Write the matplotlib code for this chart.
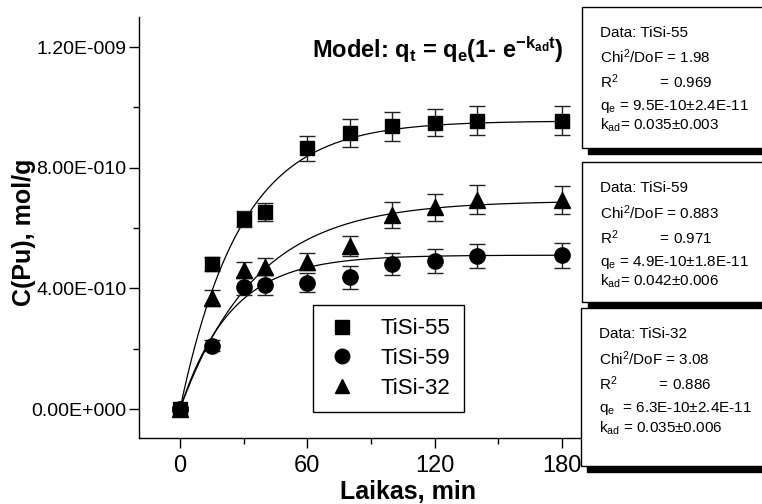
import numpy as np
import matplotlib
matplotlib.use("Agg")
import matplotlib.pyplot as plt
from matplotlib.patches import Rectangle

plt.rcParams['font.family'] = ['Liberation Sans', 'DejaVu Sans']
plt.rcParams['mathtext.fontset'] = 'custom'
plt.rcParams['mathtext.rm'] = 'Liberation Sans'
plt.rcParams['mathtext.it'] = 'Liberation Sans'
plt.rcParams['mathtext.bf'] = 'Liberation Sans:bold'

# ---- data ----
time_min = [0, 15, 30, 40, 60, 80, 100, 120, 140, 180]
tisi55 = [0, 0.481e-9, 0.629e-9, 0.654e-9, 0.864e-9, 0.915e-9, 0.937e-9, 0.949e-9, 0.956e-9, 0.956e-9]
tisi55_err = [0.008e-9, 0.024e-9, 0.026e-9, 0.030e-9, 0.042e-9, 0.045e-9, 0.047e-9, 0.045e-9, 0.048e-9, 0.048e-9]
tisi59 = [0, 0.210e-9, 0.405e-9, 0.411e-9, 0.419e-9, 0.436e-9, 0.481e-9, 0.491e-9, 0.507e-9, 0.510e-9]
tisi59_err = [0.008e-9, 0.018e-9, 0.028e-9, 0.033e-9, 0.031e-9, 0.037e-9, 0.037e-9, 0.039e-9, 0.039e-9, 0.041e-9]
tisi32 = [0, 0.367e-9, 0.461e-9, 0.472e-9, 0.488e-9, 0.540e-9, 0.643e-9, 0.668e-9, 0.693e-9, 0.693e-9]
tisi32_err = [0.008e-9, 0.026e-9, 0.025e-9, 0.028e-9, 0.028e-9, 0.033e-9, 0.044e-9, 0.045e-9, 0.048e-9, 0.047e-9]

series_names = ['TiSi-55', 'TiSi-59', 'TiSi-32']
fit_qe = [0.955e-9, 0.51e-9, 0.69e-9]
fit_k = [0.035, 0.042, 0.028]

x_ticks = [0, 60, 120, 180]
y_ticks = [0, 4e-10, 8e-10, 1.2e-9]
y_tick_labels = ['0.00E+000', '4.00E-010', '8.00E-010', '1.20E-009']

box_texts = [
    ['Data: TiSi-55', r'Chi$^2$/DoF = 1.98', r'R$^2$          = 0.969',
     r'q$_e$ = 9.5E-10±2.4E-11', r'k$_{ad}$= 0.035±0.003'],
    ['Data: TiSi-59', r'Chi$^2$/DoF = 0.883', r'R$^2$          = 0.971',
     r'q$_e$ = 4.9E-10±1.8E-11', r'k$_{ad}$= 0.042±0.006'],
    ['Data: TiSi-32', r'Chi$^2$/DoF = 3.08', r'R$^2$          = 0.886',
     r'q$_e$  = 6.3E-10±2.4E-11', r'k$_{ad}$ = 0.035±0.006'],
]

# ---- figure ----
W, H = 762, 504
fig = plt.figure(figsize=(W / 100, H / 100), dpi=100)

def fx(px):
    return px / W

def fy(py):
    return 1 - py / H

ax_l, ax_r, ax_t, ax_b = 139, 600, 17, 438
ax = fig.add_axes([fx(ax_l), fy(ax_b), fx(ax_r - ax_l), (ax_b - ax_t) / H])

x_per_min = (562 - 180) / 180.0
ax.set_xlim((ax_l - 180) / x_per_min, (ax_r - 180) / x_per_min)
y_per_unit = (409 - 47) / 1.2e-9
ax.set_ylim(-(ax_b - 409) / y_per_unit, (409 - ax_t) / y_per_unit)

for sp in ['top', 'right']:
    ax.spines[sp].set_visible(False)
for sp in ['left', 'bottom']:
    ax.spines[sp].set_linewidth(1.0)

markers = ['s', 'o', '^']
msizes = [10, 11, 11]
ydata = [tisi55, tisi59, tisi32]
yerrs = [tisi55_err, tisi59_err, tisi32_err]

tt = np.linspace(0, 180, 300)
for name, m, ms, yv, ye, qe, k in zip(series_names, markers, msizes, ydata, yerrs, fit_qe, fit_k):
    ax.plot(tt, qe * (1 - np.exp(-k * tt)), color='black', lw=0.9, zorder=2)
    ax.errorbar(time_min, yv, yerr=ye, fmt='none', ecolor='#222222', elinewidth=1.0,
                capsize=6, capthick=1.0, zorder=3)
    ax.plot(time_min, yv, linestyle='none', marker=m, ms=ms, color='black', zorder=4, label=name)

ax.set_xticks(x_ticks)
ax.set_xticks([30, 90, 150], minor=True)
ax.set_yticks(y_ticks)
ax.set_yticklabels(y_tick_labels)
ax.set_yticks([2e-10, 6e-10, 1.0e-9], minor=True)
ax.tick_params(axis='x', which='major', direction='out', length=7, width=1, labelsize=17, pad=5)
ax.tick_params(axis='x', which='minor', direction='out', length=4, width=1)
ax.tick_params(axis='y', which='major', direction='out', length=7, width=1, labelsize=14, pad=2)
ax.tick_params(axis='y', which='minor', direction='out', length=4, width=1)

leg = ax.legend(loc='upper left', bbox_to_anchor=((313 - ax_l) / (ax_r - ax_l), (ax_b - 305) / (ax_b - ax_t)),
                fontsize=16, frameon=True, fancybox=False, edgecolor='black', framealpha=1,
                handlelength=1.4, handletextpad=1.05, borderpad=0.6, labelspacing=0.4,
                borderaxespad=0, markerscale=0.95)
leg.get_frame().set_linewidth(1.0)

# title / model text
fig.text(fx(312), fy(58),
         r'Model: q$_{\mathbf{t}}$ = q$_{\mathbf{e}}$(1- e$^{\mathbf{-k_{ad}t}}$)',
         fontsize=17, fontweight='bold', ha='left', va='baseline')

# axis labels
fig.text(fx(408), fy(492), 'Laikas, min', fontsize=18, fontweight='bold', ha='center', va='center')
fig.text(fx(24), fy(232), 'C(Pu), mol/g', fontsize=18, fontweight='bold', ha='center', va='center',
         rotation=90)

# parameter boxes
boxes = [(582, 7, 148), (582, 162, 302), (581, 308, 466)]
baselines = [[37, 63, 88, 110, 130], [192, 219, 244, 266, 286], [338, 365, 390, 412, 433]]
off = 6
for (bx, btop, bbot), lines, bls in zip(boxes, box_texts, baselines):
    shadow = Rectangle((fx(bx + off), fy(bbot + off)), fx(W + 20 - bx), (bbot - btop) / H,
                       transform=fig.transFigure, facecolor='black', edgecolor='black', zorder=10)
    fig.add_artist(shadow)
    rect = Rectangle((fx(bx), fy(bbot)), fx(W + 20 - bx), (bbot - btop) / H,
                     transform=fig.transFigure, facecolor='white', edgecolor='black', lw=1.0, zorder=11)
    fig.add_artist(rect)
    for line, bl in zip(lines, bls):
        fig.text(fx(bx + 18), fy(bl), line, fontsize=11, ha='left', va='baseline', zorder=12)

fig.savefig('out.png', dpi=100)
